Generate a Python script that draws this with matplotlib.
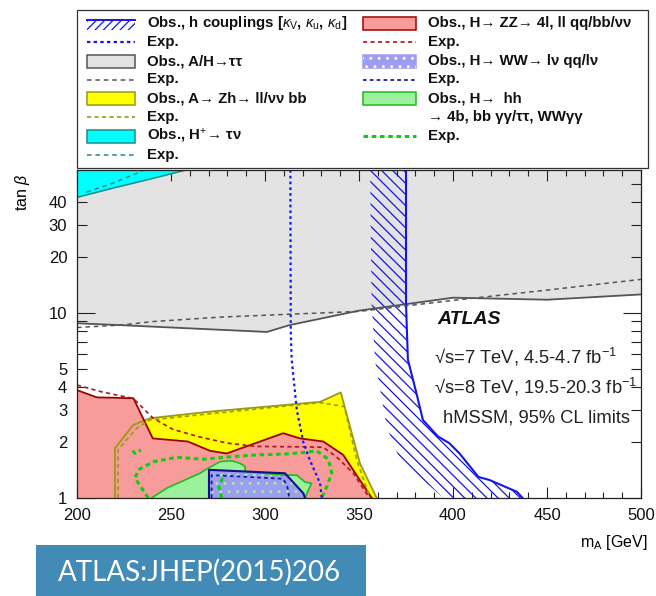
import numpy as np
import matplotlib
matplotlib.use("Agg")
import matplotlib.pyplot as plt
from matplotlib.patches import Rectangle
from matplotlib.lines import Line2D
from matplotlib.ticker import FixedLocator, FuncFormatter

plt.rcParams['font.family'] = ['Liberation Sans', 'DejaVu Sans']
plt.rcParams['mathtext.fontset'] = 'custom'
plt.rcParams['mathtext.rm'] = 'Liberation Sans'
plt.rcParams['mathtext.it'] = 'Liberation Sans:italic'
plt.rcParams['mathtext.bf'] = 'Liberation Sans:bold'
plt.rcParams['hatch.linewidth'] = 0.9

# ---------------- data: exclusion contours in the (m_A, tan beta) plane ----------------
X_MIN, X_MAX = 200, 500
Y_MIN, Y_MAX = 1.0, 59.3

# A/H -> tau tau (excluded above the curve)
tautau_obs_mA = [200, 223, 301, 313, 350, 400, 450, 500]
tautau_obs_tb = [8.8, 8.6, 7.9, 8.6, 10.3, 12.1, 11.8, 12.6]
tautau_exp_mA = [200, 223, 241, 276, 313, 350, 400, 450, 500]
tautau_exp_tb = [8.35, 8.6, 9.0, 9.5, 9.85, 10.2, 11.7, 13.3, 15.2]

# H+ -> tau nu (excluded above the curve)
hplus_obs_mA = [200, 219, 239, 258]
hplus_obs_tb = [42.2, 47.3, 53.0, 59.3]
hplus_exp_mA = [205, 219, 232, 235.5]
hplus_exp_tb = [45.0, 50.3, 57.0, 59.3]

# h couplings fit (excluded to the left of the solid line)
hcoup_obs_mA = [375, 375, 376, 380.5, 384, 392, 398, 403.5, 413.5, 419.5, 434, 437]
hcoup_obs_tb = [59.3, 11.3, 5.6, 3.7, 2.64, 2.15, 1.98, 1.74, 1.3, 1.25, 1.08, 1.0]
hcoup_band_mA = [355.9, 356.7, 358.5, 364.7, 371.8, 395]
hcoup_band_tb = [59.3, 11.3, 5.57, 2.43, 1.6, 1.0]
hcoup_exp_mA = [313.5, 313.7, 314.2, 316.9, 320.4, 323.9, 329.3, 330.2]
hcoup_exp_tb = [59.3, 8.0, 5.6, 3.0, 2.0, 1.6, 1.2, 1.0]

# A -> Zh -> ll/nunu bb
zh_obs_mA = [220.2, 220.2, 229.9, 238.8, 270.7, 329.3, 340.3, 350.5, 359.4]
zh_obs_tb = [1.0, 1.86, 2.48, 2.7, 2.93, 3.31, 3.72, 1.54, 1.0]
zh_exp_mA = [221.8, 221.8, 231.7, 238.8, 270.2, 329.3, 342.2, 348.8, 355.0, 356.0]
zh_exp_tb = [1.0, 1.82, 2.38, 2.64, 2.85, 3.28, 3.12, 1.6, 1.06, 1.0]

# H -> ZZ -> 4l, llqq/bb/nunu
zz_obs_mA = [200, 210.5, 230, 240.3, 259, 270.7, 279.6, 309.7, 318.6, 331, 341.6, 356.8]
zz_obs_tb = [3.83, 3.5, 3.46, 2.1, 2.02, 1.8, 1.74, 2.24, 2.1, 2.02, 1.71, 1.0]
zz_exp_mA = [200, 213, 230, 240.5, 251, 265, 280, 295, 320, 331, 338, 347, 355, 356]
zz_exp_tb = [4.08, 3.75, 3.45, 2.7, 2.35, 2.14, 1.98, 1.9, 1.89, 1.88, 1.67, 1.36, 1.02, 1.0]

# H -> hh
hh_obs_mA = [239.7, 247.7, 265.4, 269.8, 276, 282.3, 286.7, 289.4, 289.4, 309.7, 316.9, 321.3, 324.8, 323.0, 321.3]
hh_obs_tb = [1.0, 1.13, 1.36, 1.45, 1.57, 1.59, 1.54, 1.48, 1.39, 1.33, 1.33, 1.22, 1.2, 1.1, 1.0]
hh_exp_mA = [237.9, 234.4, 230.9, 232.6, 240.6, 253, 267.2, 281.4, 295.6, 311.5, 320, 327.5, 333.7, 335.5, 332.8, 330.2]
hh_exp_tb = [1.0, 1.13, 1.28, 1.42, 1.57, 1.66, 1.62, 1.67, 1.71, 1.73, 1.76, 1.8, 1.62, 1.36, 1.15, 1.0]
hh_exp_island_mA = [229.5, 231.0, 234.0]
hh_exp_island_tb = [1.8, 1.74, 1.82]
hh_exp_inner_mA = [277.0, 275.5, 277.5]
hh_exp_inner_tb = [1.0, 1.15, 1.29]

# H -> WW -> lnu qq / lnu lnu
ww_obs_mA = [270.2, 270.2, 310.6, 320.4, 321.3]
ww_obs_tb = [1.0, 1.42, 1.36, 1.06, 1.0]
ww_exp_mA = [271.6, 271.6, 309.7, 311.9, 312.9]
ww_exp_tb = [1.0, 1.33, 1.27, 1.15, 1.0]

# axis ticks
x_major = [200, 250, 300, 350, 400, 450, 500]
x_minor = list(range(200, 501, 10))
y_major = [1, 10]
y_minor = [2, 3, 4, 5, 6, 7, 8, 9, 20, 30, 40, 50]
y_labelled = [1, 2, 3, 4, 5, 10, 20, 30, 40]

# ---------------- colours ----------------
C_GRAY, C_GRAY_E = '#e3e3e3', '#555555'
C_CYAN, C_CYAN_E = '#00ffff', '#1b8c8c'
C_HC = '#1414ee'
C_YEL, C_YEL_E = '#ffff00', '#9a9a14'
C_RED, C_RED_E, C_RED_D = '#f89b9b', '#a00000', '#a81818'
C_GRN, C_GRN_E, C_GRN_D = '#9cf29c', '#22b822', '#11cc11'
C_WW, C_WW_E, C_WW_D = '#9d9df2', '#101088', '#1a1aa8'

W, H = 656, 596
fig = plt.figure(figsize=(W / 100, H / 100), dpi=100)
ax = fig.add_axes([77 / W, 1 - 498 / H, (641 - 77) / W, (498 - 170) / H])
ax.set_xlim(X_MIN, X_MAX)
ax.set_yscale('log')
ax.set_ylim(Y_MIN, Y_MAX)

# filled regions
ax.fill_between(tautau_obs_mA, tautau_obs_tb, Y_MAX, color=C_GRAY, lw=0, zorder=1)
ax.fill_between(hplus_obs_mA, hplus_obs_tb, Y_MAX, color=C_CYAN, lw=0, zorder=2)
ax.fill(np.r_[hcoup_band_mA, hcoup_obs_mA[::-1]], np.r_[hcoup_band_tb, hcoup_obs_tb[::-1]],
        facecolor='none', edgecolor=C_HC, lw=0, hatch='\\\\\\', zorder=2)
ax.fill(zh_obs_mA, zh_obs_tb, color=C_YEL, lw=0, zorder=3)
ax.fill_between(zz_obs_mA, zz_obs_tb, Y_MIN, color=C_RED, lw=0, zorder=4)
ax.fill(hh_obs_mA, hh_obs_tb, color=C_GRN, lw=0, zorder=5)
ax.fill(ww_obs_mA, ww_obs_tb, color=C_WW, lw=0, zorder=6)
ax.fill(ww_obs_mA, ww_obs_tb, facecolor='none', edgecolor=C_GRN, lw=0, hatch='..', zorder=6)

# observed contours
ax.plot(tautau_obs_mA, tautau_obs_tb, color=C_GRAY_E, lw=1.3, zorder=7)
ax.plot(hplus_obs_mA, hplus_obs_tb, color=C_CYAN_E, lw=1.1, zorder=7)
ax.plot(hcoup_obs_mA, hcoup_obs_tb, color=C_HC, lw=1.5, zorder=7)
ax.plot(zh_obs_mA, zh_obs_tb, color=C_YEL_E, lw=1.3, zorder=7)
ax.plot(zz_obs_mA, zz_obs_tb, color=C_RED_E, lw=1.3, zorder=7)
ax.plot(hh_obs_mA, hh_obs_tb, color=C_GRN_E, lw=1.2, zorder=7)
ax.plot(ww_obs_mA, ww_obs_tb, color=C_WW_E, lw=1.5, zorder=8)

# expected contours
ax.plot(tautau_exp_mA, tautau_exp_tb, color=C_GRAY_E, lw=1.1, ls=(0, (3, 2.5)), zorder=9)
ax.plot(hplus_exp_mA, hplus_exp_tb, color=C_CYAN_E, lw=1.1, ls=(0, (3, 2.5)), zorder=9)
ax.plot(zh_exp_mA, zh_exp_tb, color=C_YEL_E, lw=1.2, ls=(0, (2.5, 2)), zorder=9)
ax.plot(zz_exp_mA, zz_exp_tb, color=C_RED_D, lw=1.2, ls=(0, (2.5, 2)), zorder=9)
for xs, ys in [(hh_exp_mA, hh_exp_tb), (hh_exp_island_mA, hh_exp_island_tb),
               (hh_exp_inner_mA, hh_exp_inner_tb)]:
    ax.plot(xs, ys, color=C_GRN_D, lw=2.2, ls=(0, (1.5, 1.2)), zorder=9)
ax.plot(ww_exp_mA, ww_exp_tb, color=C_WW_D, lw=1.3, ls=(0, (2, 1.8)), zorder=9)
ax.plot(hcoup_exp_mA, hcoup_exp_tb, color=C_HC, lw=1.6, ls=(0, (1.2, 1.4)), zorder=10)

# axes styling
ax.xaxis.set_major_locator(FixedLocator(x_major))
ax.xaxis.set_minor_locator(FixedLocator(x_minor))
ax.yaxis.set_major_locator(FixedLocator(y_major))
ax.yaxis.set_minor_locator(FixedLocator(y_minor))
ylab = FuncFormatter(lambda v, p: f'{v:g}' if any(abs(v - t) < 1e-6 for t in y_labelled) else '')
ax.yaxis.set_major_formatter(ylab)
ax.yaxis.set_minor_formatter(ylab)
ax.tick_params(axis='both', which='both', direction='in', top=True, right=True,
               color='#222222', width=0.8, labelsize=12, labelcolor='#111111', zorder=12)
ax.tick_params(axis='x', which='major', length=8, pad=7)
ax.tick_params(axis='x', which='minor', length=4)
ax.tick_params(axis='y', which='major', length=13, pad=7)
ax.tick_params(axis='y', which='minor', length=7, pad=7)
for s in ax.spines.values():
    s.set_color('#222222')
    s.set_linewidth(0.9)
    s.set_zorder(12)

# ---------------- overlay in pixel coordinates: key, labels, caption ----------------
ov = fig.add_axes([0, 0, 1, 1], zorder=5)
ov.set_xlim(0, W)
ov.set_ylim(H, 0)
ov.set_axis_off()
ov.patch.set_alpha(0)

ov.text(437, 320, 'ATLAS', fontsize=14, fontweight='bold', style='italic', va='center',
        color='#111111')
ov.text(434, 357, '√s=7 TeV, 4.5-4.7 fb$^{-1}$', fontsize=13.2, va='center', color='#222222')
ov.text(434, 387, '√s=8 TeV, 19.5-20.3 fb$^{-1}$', fontsize=13.2, va='center', color='#222222')
ov.text(443, 418, 'hMSSM, 95% CL limits', fontsize=13.2, va='center', color='#222222')

ov.text(22, 192, r'tan $\beta$', rotation=90, fontsize=11.5, ha='center', va='center')
ov.text(648, 542, r'm$_\mathrm{A}$ [GeV]', fontsize=11.5, ha='right', va='center')

ov.add_patch(Rectangle((77, 10), 648 - 77, 158, facecolor='white', edgecolor='#333333', lw=0.9))
rows = [23.3, 41.7, 61.0, 79.5, 98.3, 117.0, 136.0, 154.5]
c1 = (87, 135, 147)
c2 = (363, 416, 428)
FS = 10.8


def box(col, row, fc, ec, hatch=None, hcol=None):
    x0, x1, _ = col
    y = rows[row]
    ov.add_patch(Rectangle((x0, y - 6.5), x1 - x0, 13, facecolor=fc, edgecolor=ec, lw=1.1))
    if hatch:
        ov.add_patch(Rectangle((x0, y - 6.5), x1 - x0, 13, facecolor='none', edgecolor=hcol,
                               lw=0, hatch=hatch))


def dash(col, row, color, lw, ls):
    x0, x1, _ = col
    ov.add_line(Line2D([x0, x1], [rows[row], rows[row]], color=color, lw=lw, ls=ls))


def label(col, row, s):
    ov.text(col[2], rows[row], s, fontsize=FS, fontweight='bold', va='center', color='#111111')


# column 1
ov.add_patch(Rectangle((c1[0], rows[0] - 3), c1[1] - c1[0], 10, facecolor='none',
                       edgecolor=C_HC, lw=0, hatch='////'))
ov.add_line(Line2D([c1[0], c1[1]], [rows[0] - 3, rows[0] - 3], color=C_HC, lw=1.4))
label(c1, 0, r'Obs., h couplings [$\kappa_\mathrm{V}$, $\kappa_\mathrm{u}$, $\kappa_\mathrm{d}$]')
dash(c1, 1, C_HC, 1.6, (0, (1.5, 1.5)))
label(c1, 1, 'Exp.')
box(c1, 2, C_GRAY, C_GRAY_E)
label(c1, 2, 'Obs., A/H→ττ')
dash(c1, 3, C_GRAY_E, 1.1, (0, (3, 2.5)))
label(c1, 3, 'Exp.')
box(c1, 4, C_YEL, C_YEL_E)
label(c1, 4, 'Obs., A→ Zh→ ll/νν bb')
dash(c1, 5, C_YEL_E, 1.2, (0, (2.5, 2)))
label(c1, 5, 'Exp.')
box(c1, 6, C_CYAN, C_CYAN_E)
label(c1, 6, r'Obs., H$^{+}$→ τν')
dash(c1, 7, C_CYAN_E, 1.1, (0, (3, 2.5)))
label(c1, 7, 'Exp.')

# column 2
box(c2, 0, C_RED, C_RED_E)
label(c2, 0, 'Obs., H→ ZZ→ 4l, ll qq/bb/νν')
dash(c2, 1, C_RED_D, 1.2, (0, (2.5, 2)))
label(c2, 1, 'Exp.')
box(c2, 2, C_WW, C_WW, hatch='..', hcol='white')
label(c2, 2, 'Obs., H→ WW→ lν qq/lν')
dash(c2, 3, C_WW_D, 1.3, (0, (2, 1.8)))
label(c2, 3, 'Exp.')
box(c2, 4, C_GRN, C_GRN_E)
label(c2, 4, 'Obs., H→  hh')
label(c2, 5, '→ 4b, bb γγ/ττ, WWγγ')
dash(c2, 6, C_GRN_D, 2.2, (0, (1.5, 1.2)))
label(c2, 6, 'Exp.')

# caption box
ov.add_patch(Rectangle((36, 545), 330, 51, facecolor='#428bb6', edgecolor='none'))
ov.text(199, 572, 'ATLAS:JHEP(2015)206', fontsize=20, family='Lato', color='white',
        ha='center', va='center')

fig.savefig('out.png', dpi=100)
